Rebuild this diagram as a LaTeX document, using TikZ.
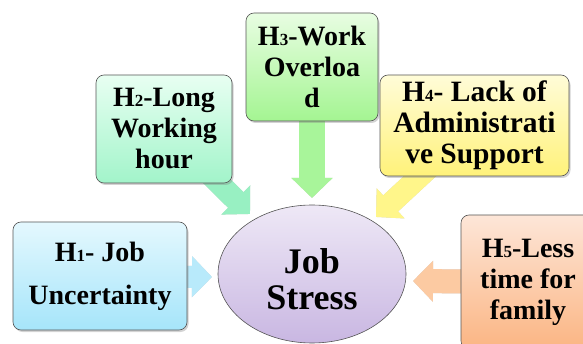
\documentclass[tikz,border=0pt]{standalone}
\usepackage{fontspec}
\setmainfont{Liberation Serif}
\usetikzlibrary{shapes.geometric,shadows,arrows.meta,backgrounds}

\definecolor{hOneTop}{HTML}{E4F8FE}\definecolor{hOneBot}{HTML}{A6E5FA}\definecolor{hOneArr}{HTML}{B8EAFB}
\definecolor{hTwoTop}{HTML}{E8FFF2}\definecolor{hTwoBot}{HTML}{A2F4CA}\definecolor{hTwoArr}{HTML}{98F0C2}
\definecolor{hThrTop}{HTML}{E8FDE2}\definecolor{hThrBot}{HTML}{A4F592}\definecolor{hThrArr}{HTML}{A8F59A}
\definecolor{hFouTop}{HTML}{FFFCD8}\definecolor{hFouBot}{HTML}{FFF27A}\definecolor{hFouArr}{HTML}{FFF68A}
\definecolor{hFivTop}{HTML}{FDE6D8}\definecolor{hFivBot}{HTML}{FBB583}\definecolor{hFivArr}{HTML}{FCCAA2}
\definecolor{stressTop}{HTML}{EEE8F6}\definecolor{stressBot}{HTML}{C9B7E2}
\definecolor{edge}{HTML}{555555}

% small digit after the H of each hypothesis
\newcommand\hnum[1]{{\fontsize{17}{17}\selectfont #1}}

\tikzset{
  hbox/.style={draw=edge, line width=0.6pt, rounded corners=8pt, inner sep=0pt,
    align=center, font=\bfseries\fontsize{28}{31}\selectfont,
    drop shadow={shadow xshift=1.5pt, shadow yshift=-2pt, opacity=0.35}},
  fatarrow/.style={line width=#1, -{Triangle[length=20pt,width=40pt]}},
  fatshadow/.style={line width=#1, draw=black!18, -{Triangle[length=20pt,width=40pt]}},
}

\begin{document}
\begin{tikzpicture}[x=1pt,y=-1pt]
\useasboundingbox (0,0) rectangle (583,344);

% hypothesis boxes
\node[hbox, minimum width=174pt, minimum height=108pt, top color=hOneTop, bottom color=hOneBot,
      font=\bfseries\fontsize{28}{43}\selectfont] (h1) at (100,276) {H\hnum{1}- Job\\Uncertainty};
\node[hbox, minimum width=136pt, minimum height=108pt, top color=hTwoTop, bottom color=hTwoBot]
      (h2) at (164,129) {H\hnum{2}-Long\\Working\\hour};
\node[hbox, minimum width=132pt, minimum height=108pt, top color=hThrTop, bottom color=hThrBot]
      (h3) at (312,67) {H\hnum{3}-Work\\Overloa\\d};
\node[hbox, minimum width=189pt, minimum height=101pt, top color=hFouTop, bottom color=hFouBot,
      font=\bfseries\fontsize{29.5}{31}\selectfont] (h4) at (474.5,125.5) {H\hnum{4}- Lack of\\Administrati\\ve Support};
\node[hbox, minimum width=134pt, minimum height=134pt, top color=hFivTop, bottom color=hFivBot]
      (h5) at (528,282) {H\hnum{5}-Less\\time for\\family};

% central ellipse and its label
\node[ellipse, draw=edge, line width=0.6pt, minimum width=188pt, minimum height=138pt,
      top color=stressTop, bottom color=stressBot, inner sep=0pt] (js) at (312,274) {};
\node[align=center, inner sep=0pt, font=\bfseries\fontsize{36}{36}\selectfont]
      (jst) at ([yshift=-5pt]js.center) {Job\\Stress};

% arrow tips near the central ellipse
\coordinate (t1) at (212,277);
\coordinate (t2) at (250,214);
\coordinate (t3) at (312,198);
\coordinate (t4) at (376,217);
\coordinate (t5) at (413,281);

% block arrows with soft shadows, under the boxes
\begin{scope}[on background layer]
  \begin{scope}[shift={(1.5,2.5)}]
    \draw[fatshadow=22pt] (h1.center) -- (t1);
    \draw[fatshadow=22pt] (h2.center) -- (t2);
    \draw[fatshadow=26pt] (h3.center) -- (t3);
    \draw[fatshadow=22pt] (h4.center) -- (t4);
    \draw[fatshadow=24pt] (h5.center) -- (t5);
  \end{scope}
  \draw[fatarrow=22pt, draw=hOneArr] (h1.center) -- (t1);
  \draw[fatarrow=22pt, draw=hTwoArr] (h2.center) -- (t2);
  \draw[fatarrow=26pt, draw=hThrArr] (h3.center) -- (t3);
  \draw[fatarrow=22pt, draw=hFouArr] (h4.center) -- (t4);
  \draw[fatarrow=24pt, draw=hFivArr] (h5.center) -- (t5);
\end{scope}
\end{tikzpicture}
\end{document}
